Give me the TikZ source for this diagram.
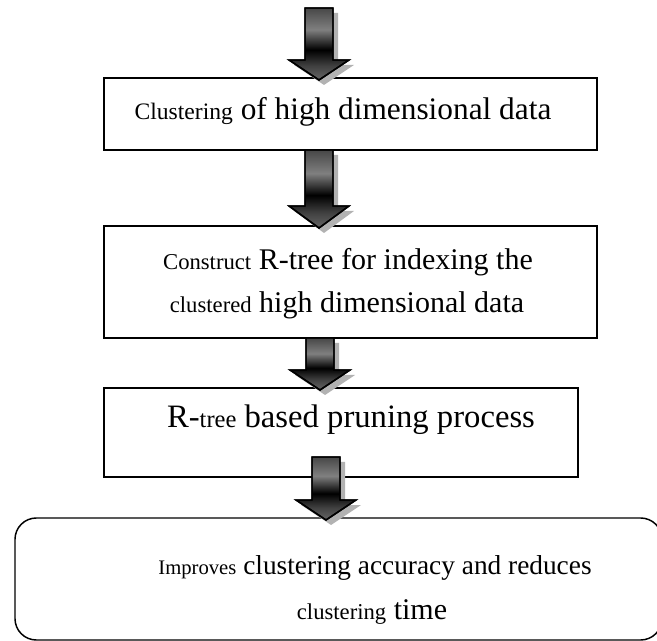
\documentclass[tikz,border=0pt]{standalone}
\usepackage{fontspec}
\setmainfont{Liberation Serif}
\newcommand\bigtxt{\fontsize{22.5}{32}\selectfont}
\newcommand\smtxt{\fontsize{17}{20}\selectfont}
\newcommand\bigtxtA{\fontsize{23.5}{32}\selectfont}
\newcommand\smtxtA{\fontsize{17.7}{20}\selectfont}
\newcommand\bigtxtC{\fontsize{24.5}{32}\selectfont}
\newcommand\smtxtC{\fontsize{18.4}{20}\selectfont}
\newcommand\bigtxtD{\fontsize{20.5}{32}\selectfont}
\newcommand\smtxtD{\fontsize{15.5}{20}\selectfont}
\pgfdeclareverticalshading{arrowshade}{100bp}{color(0bp)=(black!60); color(25bp)=(black!60); color(35bp)=(black!75); color(46bp)=(black); color(60bp)=(black!50); color(75bp)=(black!72); color(100bp)=(black!72)}
% #1 = x centre, #2 = y top, #3 = y tip, #4 = head length
\newcommand\blockarrow[4]{%
  \fill[arrowshadow] ({#1-14+5},{#2+5}) -- ({#1+14+5},{#2+5}) -- ({#1+14+5},{#3-#4+5}) -- ({#1+30+5},{#3-#4+5}) -- ({#1+5},{#3+5}) -- ({#1-30+5},{#3-#4+5}) -- ({#1-14+5},{#3-#4+5}) -- cycle;
  \shade[shading=arrowshade, arrowline] ({#1-14},#2) -- ({#1+14},#2) -- ({#1+14},{#3-#4}) -- ({#1+30},{#3-#4}) -- (#1,#3) -- ({#1-30},{#3-#4}) -- ({#1-14},{#3-#4}) -- cycle;
  \draw[arrowline] ({#1-14},#2) -- ({#1+14},#2) -- ({#1+14},{#3-#4}) -- ({#1+30},{#3-#4}) -- (#1,#3) -- ({#1-30},{#3-#4}) -- ({#1-14},{#3-#4}) -- cycle;}
\tikzset{
  stagebox/.style={draw=black, line width=1.1pt, rectangle, inner sep=0pt},
  endbox/.style={draw=black, line width=1.1pt, rectangle, rounded corners=16pt, inner sep=0pt},
  arrowline/.style={draw=black, line width=1.1pt, line join=miter},
  arrowshadow/.style={fill=black!30},
  label/.style={inner sep=0pt, font=\bigtxt}
}
\begin{document}
\begin{tikzpicture}[x=0.75pt,y=-0.75pt]
\useasboundingbox (0,0) rectangle (657,641);
% boxes
\node[stagebox, minimum width=493*0.75pt, minimum height=72*0.75pt] (b1) at (350.5,114) {};
\node[stagebox, minimum width=493*0.75pt, minimum height=112*0.75pt] (b2) at (350.5,282) {};
\node[stagebox, minimum width=474*0.75pt, minimum height=89*0.75pt] (b3) at (341,432.5) {};
\node[endbox, minimum width=647*0.75pt, minimum height=122*0.75pt] (b4) at (338.5,579) {};
% texts
\node[label, font=\bigtxtA] (t1) at (343,112) {{\smtxtA Clustering} of high dimensional data};
\node[label] (t2a) at (348,262) {{\smtxt Construct} R-tree for indexing the};
\node[label] (t2b) at (347,305) {{\smtxt clustered} high dimensional data};
\node[label, font=\bigtxtC] (t3) at (351,420) {R-{\smtxtC tree} based pruning process};
\node[label, font=\bigtxtD] (t4a) at (375,568) {{\smtxtD Improves} clustering accuracy and reduces};
\node[label] (t4b) at (372,612) {{\smtxt clustering} time};
% arrows
\blockarrow{319}{8}{80}{20}
\blockarrow{319}{150}{228}{22}
\blockarrow{320}{338}{390}{20}
\blockarrow{326}{457}{520}{20}
\end{tikzpicture}
\end{document}
